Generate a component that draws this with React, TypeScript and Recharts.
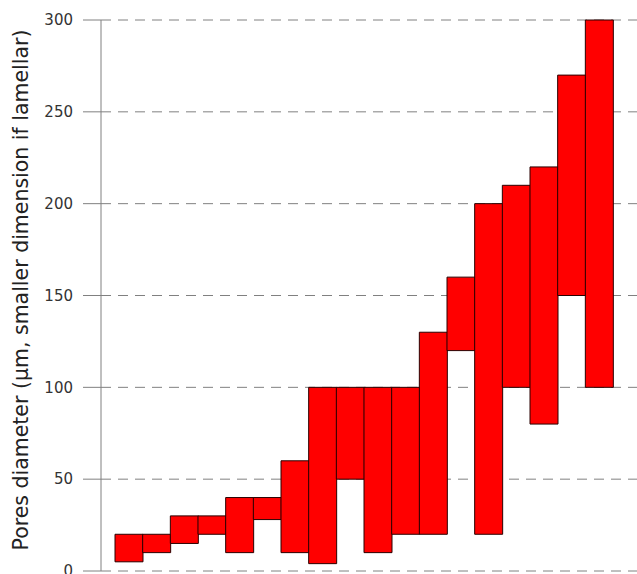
import { Bar, BarChart, CartesianGrid, XAxis, YAxis } from "recharts";

const categories = ["1", "2", "3", "4", "5", "6", "7", "8", "9", "10", "11", "12", "13", "14", "15", "16", "17", "18"];
const lows = [5, 10, 15, 20, 10, 28, 10, 4, 50, 10, 20, 20, 120, 20, 100, 80, 150, 100];
const highs = [20, 20, 30, 30, 40, 40, 60, 100, 100, 100, 100, 130, 160, 200, 210, 220, 270, 300];
const yTicks = [0, 50, 100, 150, 200, 250, 300];

const data = categories.map((name, i) => ({ name, range: [lows[i], highs[i]] }));

const font = "'DejaVu Sans', Verdana, sans-serif";

export default function App() {
  return (
    <div style={{ position: "absolute", left: 0, top: 0 }}>
      <BarChart
        width={637}
        height={574}
        data={data}
        margin={{ top: 20, right: 0, bottom: 3, left: 0 }}
        barCategoryGap={0}
      >
        <CartesianGrid vertical={false} stroke="#808080" strokeDasharray="10 7" />
        <XAxis dataKey="name" hide padding={{ left: 14, right: 24 }} />
        <YAxis
          width={101}
          domain={[0, 300]}
          ticks={yTicks}
          interval={0}
          tickSize={18}
          tickMargin={10}
          stroke="#808080"
          tick={{ fill: "#333", fontSize: 15, fontFamily: font }}
          label={{
            content: () => (
              <text
                x={21}
                y={290}
                transform="rotate(-90 21 290)"
                textAnchor="middle"
                dominantBaseline="central"
                fontSize={20.5}
                fontFamily={font}
                fill="#222"
              >
                Pores diameter (μm, smaller dimension if lamellar)
              </text>
            ),
          }}
        />
        <Bar dataKey="range" fill="#FF0000" stroke="#2a0000" strokeWidth={1} isAnimationActive={false} />
      </BarChart>
    </div>
  );
}
